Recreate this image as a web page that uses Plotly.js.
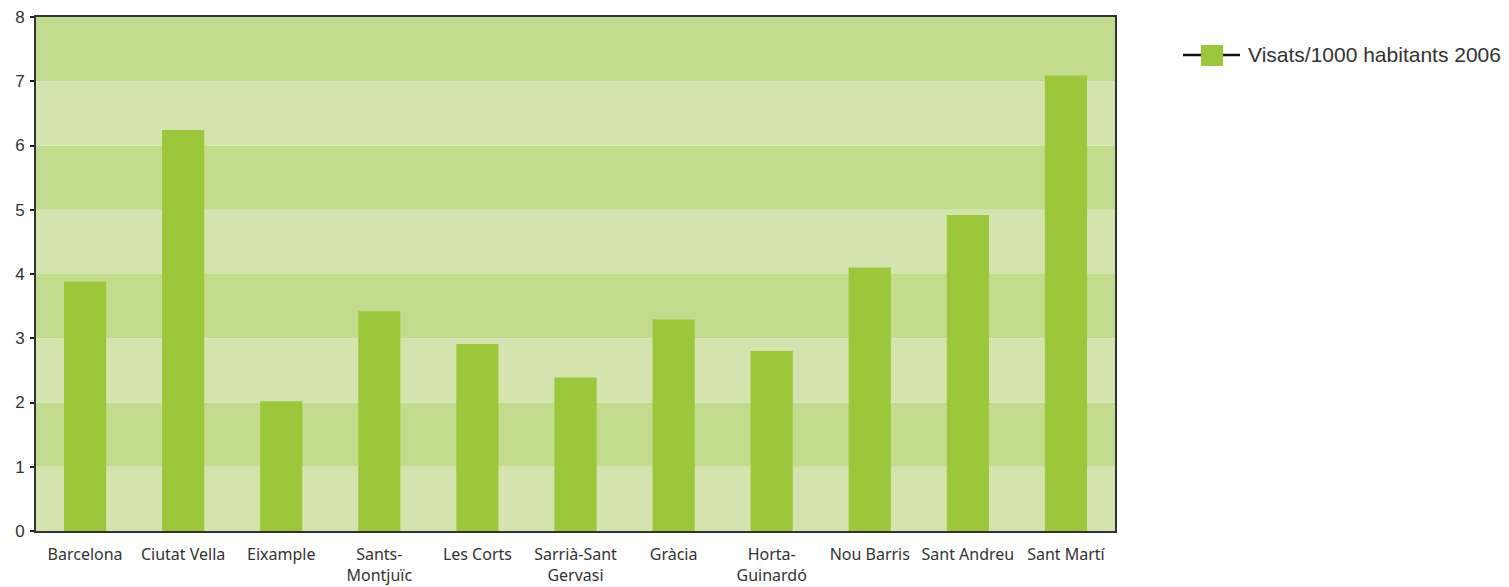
<!DOCTYPE html>
<html>
<head>
<meta charset="utf-8">
<script src="https://cdn.plot.ly/plotly-3.0.1.min.js"></script>
<style>html,body{margin:0;padding:0;background:#fff;}#chart{width:1509px;height:587px;}</style>
</head>
<body>
<div id="chart"></div>
<script>
const categories = ["Barcelona", "Ciutat Vella", "Eixample", "Sants-<br>Montjuïc", "Les Corts", "Sarrià-Sant<br>Gervasi", "Gràcia", "Horta-<br>Guinardó", "Nou Barris", "Sant Andreu", "Sant Martí"];
const values = [3.88, 6.24, 2.02, 3.42, 2.91, 2.39, 3.29, 2.80, 4.10, 4.92, 7.09];
const seriesName = "Visats/1000 habitants 2006";
const yTicks = [0, 1, 2, 3, 4, 5, 6, 7, 8];

const barColor = "#9bc83b";
const bandLight = "#d4e4af";
const bandDark = "#c2db8c";

// plot area geometry (pixels), for converting legend position to paper coords
const W = 1509, H = 587, ML = 36, MR = 394, MT = 17, MB = 56;
const pw = W - ML - MR, ph = H - MT - MB;
const px = v => (v - ML) / pw;
const py = v => (H - MB - v) / ph;

const shapes = [];
for (let i = 0; i < 8; i++) {
  shapes.push({type: "rect", xref: "paper", yref: "y", x0: 0, x1: 1, y0: i, y1: i + 1,
    fillcolor: i % 2 === 0 ? bandLight : bandDark, line: {width: 0}, layer: "below"});
}
// custom legend: line with square marker
shapes.push({type: "line", xref: "paper", yref: "paper", x0: px(1183), x1: px(1240), y0: py(55), y1: py(55),
  line: {color: "#111", width: 2.5}});
shapes.push({type: "rect", xref: "paper", yref: "paper", x0: px(1201), x1: px(1223), y0: py(66), y1: py(45),
  fillcolor: barColor, line: {width: 0}});

const annotations = [{xref: "paper", yref: "paper", x: px(1246), y: py(55), xanchor: "left", yanchor: "middle",
  text: seriesName, showarrow: false, font: {family: "Liberation Sans, Arial, sans-serif", size: 21, color: "#333"}}];

const traces = [
  {type: "bar", x: categories, y: values, marker: {color: barColor}, name: seriesName, showlegend: false, hoverinfo: "x+y"}
];

const layout = {
  width: W, height: H,
  margin: {l: ML, r: MR, t: MT, b: MB},
  paper_bgcolor: "#ffffff", plot_bgcolor: "rgba(0,0,0,0)",
  bargap: 0.57,
  shapes: shapes,
  annotations: annotations,
  showlegend: false,
  xaxis: {type: "category", showline: true, linecolor: "#333", linewidth: 2, mirror: true,
    ticks: "", showgrid: false, tickangle: 0, ticklabelstandoff: 8,
    tickfont: {family: "Noto Sans, Open Sans, sans-serif", size: 16, color: "#333"}},
  yaxis: {range: [0, 8], tickvals: yTicks, ticktext: yTicks.map(String), showline: true, linecolor: "#333", linewidth: 2, mirror: true,
    ticks: "outside", ticklen: 4, tickwidth: 2, tickcolor: "#222", showgrid: false, zeroline: false,
    ticklabelstandoff: 2,
    tickfont: {family: "Liberation Sans, Arial, sans-serif", size: 17, color: "#333"}}
};

Plotly.newPlot("chart", traces, layout, {displayModeBar: false, staticPlot: true});
</script>
</body>
</html>
